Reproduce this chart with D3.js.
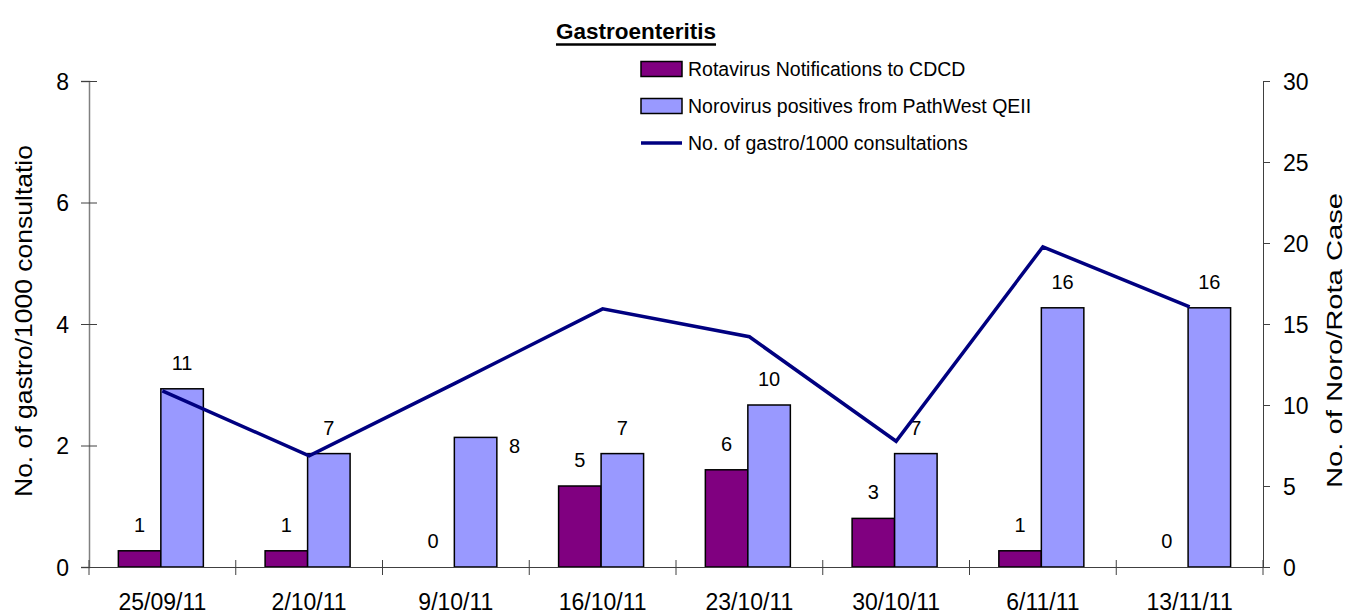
<!DOCTYPE html>
<html>
<head>
<meta charset="utf-8">
<script src="https://cdn.jsdelivr.net/npm/d3@7"></script>
<style>
  body { margin: 0; background: #fff; }
  svg { display: block; font-family: "Liberation Sans", Arial, sans-serif; }
</style>
</head>
<body>
<div id="display"></div>
<script>
const categories = ["25/09/11", "2/10/11", "9/10/11", "16/10/11", "23/10/11", "30/10/11", "6/11/11", "13/11/11"]
const rotavirus = [1, 1, 0, 5, 6, 3, 1, 0]
const norovirus = [11, 7, 8, 7, 10, 7, 16, 16]
const gastroRate = [2.90, 1.83, 3.03, 4.25, 3.79, 2.07, 5.27, 4.28]
const leftTicks = [0, 2, 4, 6, 8]
const rightTicks = [0, 5, 10, 15, 20, 25, 30]
const seriesNames = ["Rotavirus Notifications to CDCD", "Norovirus positives from PathWest QEII", "No. of gastro/1000 consultations"]

function chart(parentNode)
{
  let width = 1346
  let height = 615
  let margin = {top: 81, right: 83, bottom: 48, left: 89}
  const rotaColor = "#800080", noroColor = "#9999ff", lineColor = "#000080"

  let x = d3.scaleBand(categories, [margin.left, width - margin.right])
  let yL = d3.scaleLinear([0, 8], [height - margin.bottom, margin.top])
  let yR = d3.scaleLinear([0, 30], [height - margin.bottom, margin.top])
  let bw = x.bandwidth()
  let sub = d3.scaleBand(["rota", "noro"], [bw * 0.2, bw * 0.2 + 85])

  const svg = d3.create("svg")
      .attr("width", width)
      .attr("height", height)
      .attr("viewBox", [0, 0, width, height])
  // attach first so text can be measured
  parentNode.appendChild(svg.node())

  // title with thick underline
  const title = svg.append("text")
      .attr("x", 636).attr("y", 39)
      .attr("text-anchor", "middle")
      .attr("font-size", 22.5).attr("font-weight", "bold")
      .text("Gastroenteritis")
  let tw = title.node().getComputedTextLength()
  svg.append("line")
      .attr("x1", 636 - tw / 2).attr("x2", 636 + tw / 2)
      .attr("y1", 44.5).attr("y2", 44.5)
      .attr("stroke", "#000").attr("stroke-width", 2.5)

  // bars
  const groups = svg.append("g")
    .selectAll("g")
    .data(categories)
    .join("g")
      .attr("transform", d => `translate(${x(d)},0)`)

  groups.append("rect")
      .attr("x", sub("rota"))
      .attr("width", sub.bandwidth())
      .attr("y", (d, i) => yR(rotavirus[i]))
      .attr("height", (d, i) => yR(0) - yR(rotavirus[i]))
      .attr("fill", rotaColor)
      .attr("stroke", "#000").attr("stroke-width", 1.5)

  groups.append("rect")
      .attr("x", sub("noro"))
      .attr("width", sub.bandwidth())
      .attr("y", (d, i) => yR(norovirus[i]))
      .attr("height", (d, i) => yR(0) - yR(norovirus[i]))
      .attr("fill", noroColor)
      .attr("stroke", "#000").attr("stroke-width", 1.5)

  // axes
  svg.append("g")
      .attr("transform", `translate(${margin.left},0)`)
      .call(d3.axisLeft(yL).tickValues(leftTicks).tickSize(8).tickPadding(12))
      .call(g => g.select(".domain").attr("stroke", "#808080").attr("stroke-width", 1.5))
      .call(g => g.selectAll(".tick line").attr("x1", 8).attr("stroke", "#404040"))
      .call(g => g.selectAll(".tick text").attr("font-size", 23).attr("fill", "#000").attr("dy", "0.35em"))
      .attr("font-family", null)

  svg.append("g")
      .attr("transform", `translate(${width - margin.right},0)`)
      .call(d3.axisRight(yR).tickValues(rightTicks).tickSize(7).tickPadding(13))
      .call(g => g.select(".domain").attr("stroke", "#404040"))
      .call(g => g.selectAll(".tick line").attr("stroke", "#404040"))
      .call(g => g.selectAll(".tick text").attr("font-size", 23).attr("fill", "#000").attr("dy", "0.35em"))
      .attr("font-family", null)

  svg.append("g")
      .attr("transform", `translate(0,${height - margin.bottom})`)
      .call(d3.axisBottom(x).tickValues([]).tickSizeOuter(0))
      .call(g => g.select(".domain").attr("stroke", "#404040"))
      .call(g => g.selectAll(".sep")
          .data(categories.concat([null]))
          .join("line")
            .attr("x1", d => d ? x(d) : x.range()[1])
            .attr("x2", d => d ? x(d) : x.range()[1])
            .attr("y1", -7).attr("y2", 8)
            .attr("stroke", "#404040"))
      .call(g => g.selectAll(".lab")
          .data(categories)
          .join("text")
            .attr("x", d => x(d) + bw / 2)
            .attr("y", 43)
            .attr("text-anchor", "middle")
            .attr("font-size", 23)
            .attr("fill", "#000")
            .text(d => d))
      .attr("font-family", null)

  // line
  let line = d3.line()
      .x((d, i) => x(categories[i]) + bw / 2)
      .y(d => yL(d))
  svg.append("path")
      .datum(gastroRate)
      .attr("d", line)
      .attr("fill", "none")
      .attr("stroke", lineColor)
      .attr("stroke-width", 3.5)
      .attr("stroke-linejoin", "miter")

  // data labels
  const nudge = {"9/10/11": [39, 35]}
  groups.append("text")
      .attr("x", sub("rota") + sub.bandwidth() / 2)
      .attr("y", (d, i) => yR(rotavirus[i]) - 19)
      .attr("text-anchor", "middle").attr("font-size", 20)
      .text((d, i) => rotavirus[i])
  groups.append("text")
      .attr("x", d => sub("noro") + sub.bandwidth() / 2 + (nudge[d] ? nudge[d][0] : 0))
      .attr("y", (d, i) => yR(norovirus[i]) - 19 + (nudge[d] ? nudge[d][1] : 0))
      .attr("text-anchor", "middle").attr("font-size", 20)
      .text((d, i) => norovirus[i])

  // axis titles, truncated as in the original
  svg.append("text")
      .attr("transform", "translate(32,497) rotate(-90)")
      .attr("font-size", 24)
      .attr("textLength", 352).attr("lengthAdjust", "spacingAndGlyphs")
      .text("No. of gastro/1000 consultatio")
  svg.append("text")
      .attr("transform", "translate(1342,488) rotate(-90)")
      .attr("font-size", 22)
      .attr("textLength", 295).attr("lengthAdjust", "spacingAndGlyphs")
      .text("No. of Noro/Rota Case")

  // legend
  const legend = svg.append("g")
      .attr("transform", "translate(641,0)")
  const rows = legend.selectAll("g")
    .data(seriesNames)
    .join("g")
      .attr("transform", (d, i) => `translate(0,${69 + i * 37})`)
  rows.filter((d, i) => i < 2).append("rect")
      .attr("x", 0).attr("y", -7.5).attr("width", 41).attr("height", 15)
      .attr("fill", (d, i) => i == 0 ? rotaColor : noroColor)
      .attr("stroke", "#000").attr("stroke-width", 1.5)
  rows.filter((d, i) => i == 2).append("line")
      .attr("x1", 0).attr("x2", 41)
      .attr("stroke", lineColor).attr("stroke-width", 3.5)
  rows.append("text")
      .attr("x", 47).attr("dy", "0.35em")
      .attr("font-size", 19.5)
      .text(d => d)
}

document.addEventListener("DOMContentLoaded", () => {
    chart(document.getElementById("display"));
})
</script>
</body>
</html>
